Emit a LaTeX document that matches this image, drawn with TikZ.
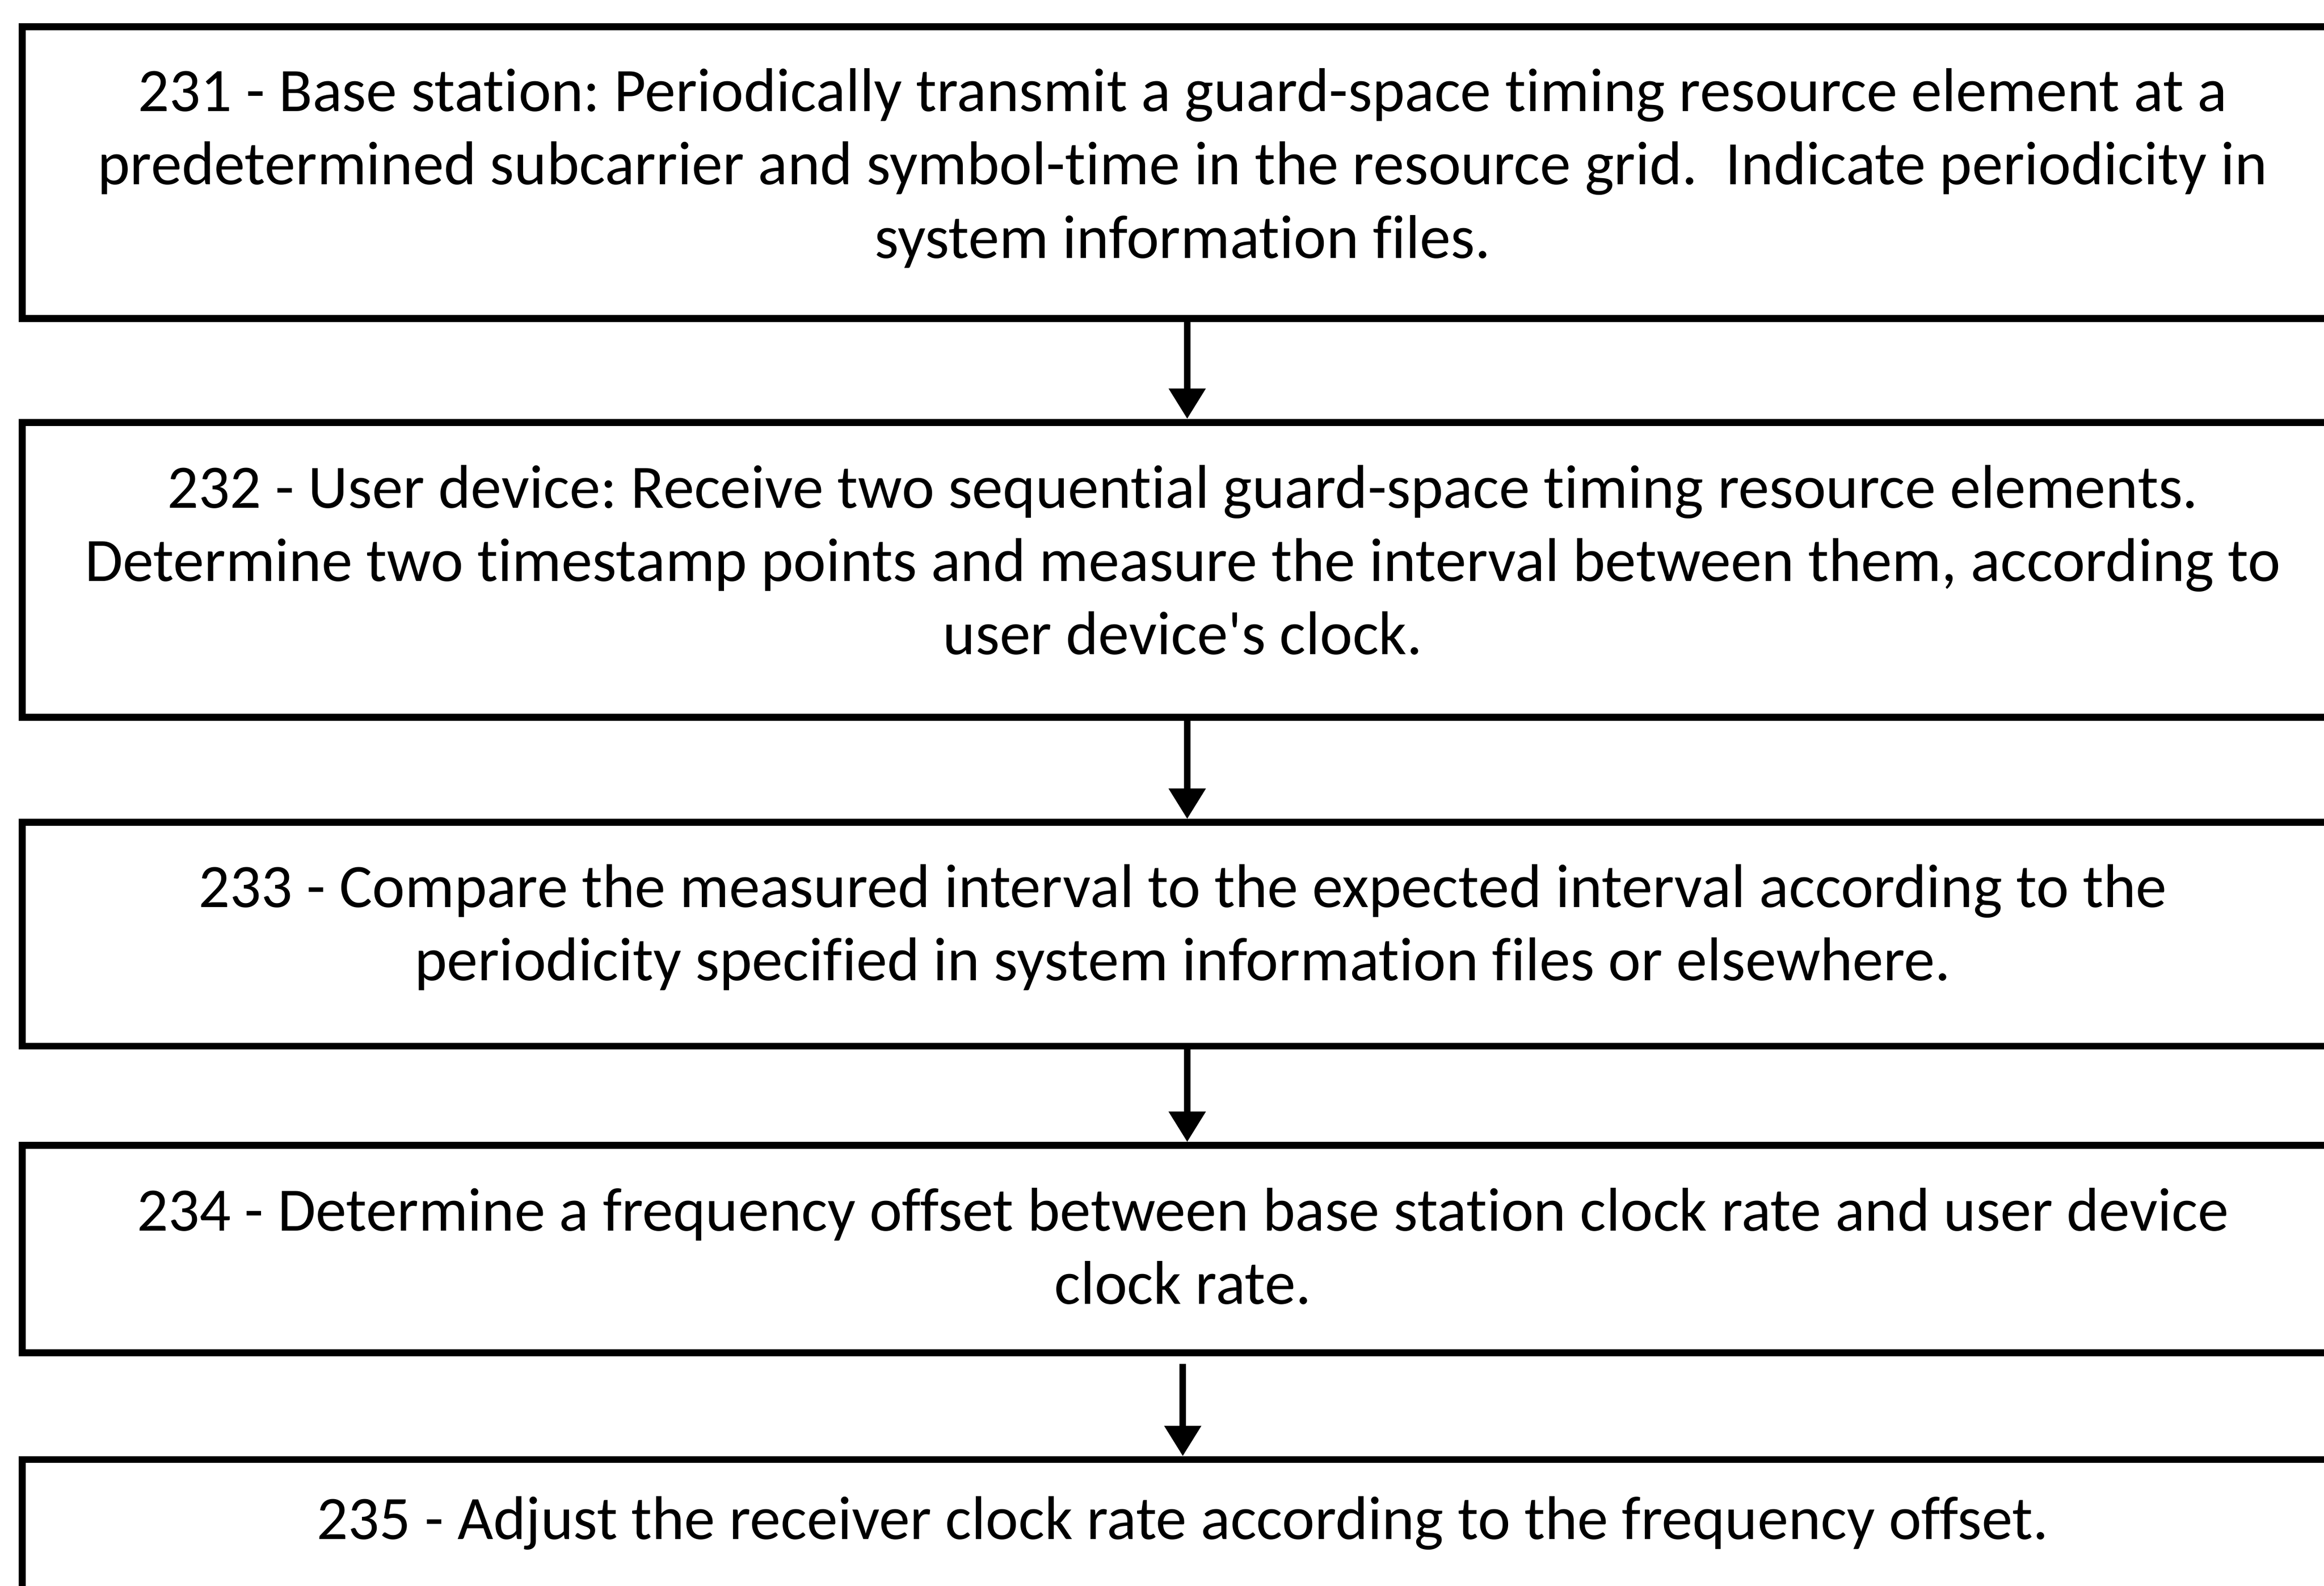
\documentclass[tikz,border=0pt]{standalone}
\usepackage{fontspec}
\setmainfont[Ligatures={NoCommon}]{Carlito}
\usetikzlibrary{arrows.meta}
\frenchspacing
\begin{document}
\begin{tikzpicture}[x=1pt,y=-1pt,
  stepbox/.style={draw=black, line width=4.7pt, minimum width=1566pt, inner sep=0pt},
  steptext/.style={align=center, inner sep=0pt, font=\fontsize{41.7}{49.5}\selectfont},
  flow/.style={-{Triangle[width=24pt,length=20.5pt]}, line width=4.3pt}]
\clip (0,0) rectangle (1568,1070);
\fill[white] (0,0) rectangle (1568,1070);
\node[stepbox, minimum height=197pt] (b1) at (798,116.5) {};
\node[steptext] (t1) at ([yshift=3pt]b1.center)
  {231 - Base station: Periodically transmit a guard-space timing resource element at a\\
   predetermined subcarrier and symbol-time in the resource grid.~ Indicate periodicity in\\
   system information files.};
\node[stepbox, minimum height=199pt] (b2) at (798,384.5) {};
\node[steptext] (t2) at ([yshift=6.5pt]b2.center)
  {232 - User device: Receive two sequential guard-space timing resource elements.\\
   Determine two timestamp points and measure the interval between them, according to\\
   user device\textquotesingle s clock.};
\node[stepbox, minimum height=151pt] (b3) at (798,630.5) {};
\node[steptext] (t3) at ([yshift=4.5pt]b3.center)
  {233 - Compare the measured interval to the expected interval according to the\\
   periodicity specified in system information files or elsewhere.};
\node[stepbox, minimum height=140pt] (b4) at (798,843) {};
\node[steptext] (t4) at ([yshift=2pt]b4.center)
  {234 - Determine a frequency offset between base station clock rate and user device\\
   clock rate.};
\node[stepbox, minimum height=95pt] (b5) at (798,1032.5) {};
\node[steptext] (t5) at ([yshift=4.5pt]b5.center)
  {235 - Adjust the receiver clock rate according to the frequency offset.};
\draw[flow] (b1.south -| 801,0) -- (b2.north -| 801,0);
\draw[flow] (b2.south -| 801,0) -- (b3.north -| 801,0);
\draw[flow] (b3.south -| 801,0) -- (b4.north -| 801,0);
\draw[flow] ([yshift=-5pt]b4.south -| 798,0) -- (b5.north -| 798,0);
\end{tikzpicture}
\end{document}
